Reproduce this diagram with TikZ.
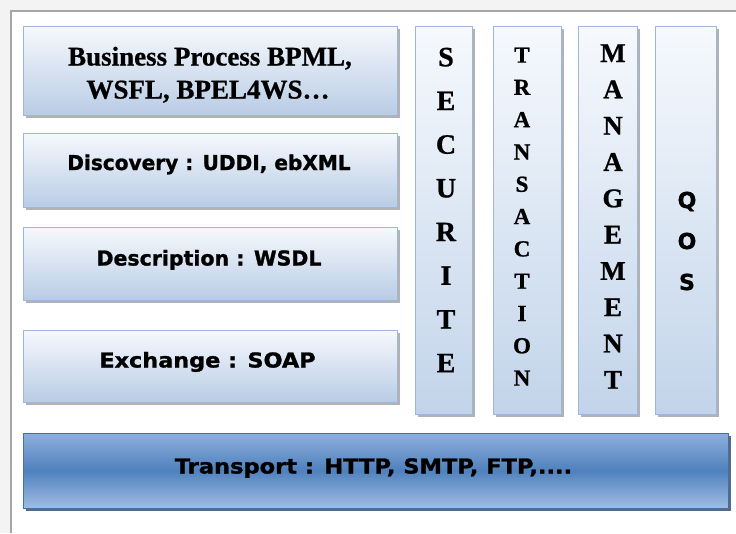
\documentclass[tikz,border=0pt]{standalone}
\usepackage{fontspec}
\setmainfont{Liberation Serif}[BoldFeatures={FakeBold=0.8}]
\newfontfamily\sansb{DejaVu Sans}[BoldFeatures={FakeBold=1.2}]
\usetikzlibrary{shadows}

\definecolor{pagebg}{HTML}{F3F3F3}
\definecolor{framegray}{HTML}{A6A6A6}
\definecolor{layeredge}{HTML}{9DB8DC}
\definecolor{layertop}{HTML}{F6F9FD}
\definecolor{layerbot}{HTML}{B9CCE5}
\definecolor{pillarbot}{HTML}{C2D4EA}
\definecolor{baseedge}{HTML}{4270AD}
\definecolor{basetop}{HTML}{8EAFDC}
\definecolor{basemid}{HTML}{4F81BD}
\definecolor{basebot}{HTML}{A0BDE3}
\definecolor{baseshadow}{HTML}{24385A}

\begin{document}
\begin{tikzpicture}[x=1pt,y=-1pt,
  layer/.style={draw=layeredge, line width=0.9pt, inner sep=0pt,
    top color=layertop, bottom color=layerbot,
    drop shadow={shadow xshift=2.5pt, shadow yshift=-2.5pt, fill=black!60, opacity=.5}},
  pillar/.style={layer, bottom color=pillarbot},
  transportbox/.style={draw=baseedge, line width=0.9pt, inner sep=0pt,
    top color=basetop, bottom color=basebot, middle color=basemid,
    drop shadow={shadow xshift=3pt, shadow yshift=-3pt, fill=baseshadow, opacity=.75}},
  sanslbl/.style={font=\sansb\bfseries\fontsize{20.5}{24}\selectfont, anchor=base, inner sep=0pt},
  seriflbl/.style={font=\bfseries\fontsize{27}{33}\selectfont, anchor=base, inner sep=0pt},
  letter/.style={anchor=base, inner sep=0pt}]

\useasboundingbox (0,0) rectangle (736,533);

% page background and frame
\fill[pagebg] (0,0) rectangle (736,533);
\fill[white] (11,11) rectangle (736,533);
\draw[framegray, line width=1.6pt] (11,533) -- (11,11) -- (736,11);

% protocol layers on the left
\node[layer, minimum width=374pt, minimum height=89pt] (bp) at (210,70.5) {};
\node[layer, minimum width=374pt, minimum height=74pt] (disc) at (210,170) {};
\node[layer, minimum width=374pt, minimum height=73pt] (desc) at (210,263.5) {};
\node[layer, minimum width=374pt, minimum height=72pt] (exch) at (210,366) {};

% vertical concerns
\node[pillar, minimum width=57pt, minimum height=388pt] (secu) at (443.5,220) {};
\node[pillar, minimum width=68pt, minimum height=388pt] (trans) at (527,220) {};
\node[pillar, minimum width=59pt, minimum height=388pt] (mgmt) at (607.5,220) {};
\node[pillar, minimum width=61pt, minimum height=388pt] (qos) at (685.5,220) {};

% transport layer
\node[transportbox, minimum width=705pt, minimum height=75pt] (tr) at (375.5,470.5) {};

% layer labels
\node[seriflbl] (bp-1) at (210,65.5) {Business Process BPML,};
\node[seriflbl] (bp-2) at (208,98.5) {WSFL, BPEL4WS…};
\node[sanslbl] (disc-t) at (209,170) {\scalebox{0.98}[1]{Discovery : UDDI, ebXML}};
\node[sanslbl] (desc-t) at (209,265.5) {Description : WSDL};
\node[sanslbl] (exch-t) at (207.5,367.5) {\scalebox{1.09}[1]{Exchange : SOAP}};
\node[sanslbl] (tr-t) at (373.5,473.5) {\scalebox{1.1}[1]{Transport : HTTP, SMTP, FTP,....}};

% vertical lettering
\foreach \l [count=\i from 0] in {S,E,C,U,R,I,T,E}
  \node[letter, font=\bfseries\fontsize{28}{30}\selectfont] (secu-\i) at (446,66.3+43.7*\i) {\l};
\foreach \l [count=\i from 0] in {T,R,A,N,S,A,C,T,I,O,N}
  \node[letter, font=\bfseries\fontsize{23}{25}\selectfont] (trans-\i) at (522,62.6+32.3*\i) {\l};
\foreach \l [count=\i from 0] in {M,A,N,A,G,E,M,E,N,T}
  \node[letter, font=\bfseries\fontsize{27}{29}\selectfont] (mgmt-\i) at (613,62+36.3*\i) {\l};
\foreach \l [count=\i from 0] in {Q,O,S}
  \node[letter, font=\sansb\bfseries\fontsize{22}{24}\selectfont] (qos-\i) at (687,208+41*\i) {\l};

\end{tikzpicture}
\end{document}
